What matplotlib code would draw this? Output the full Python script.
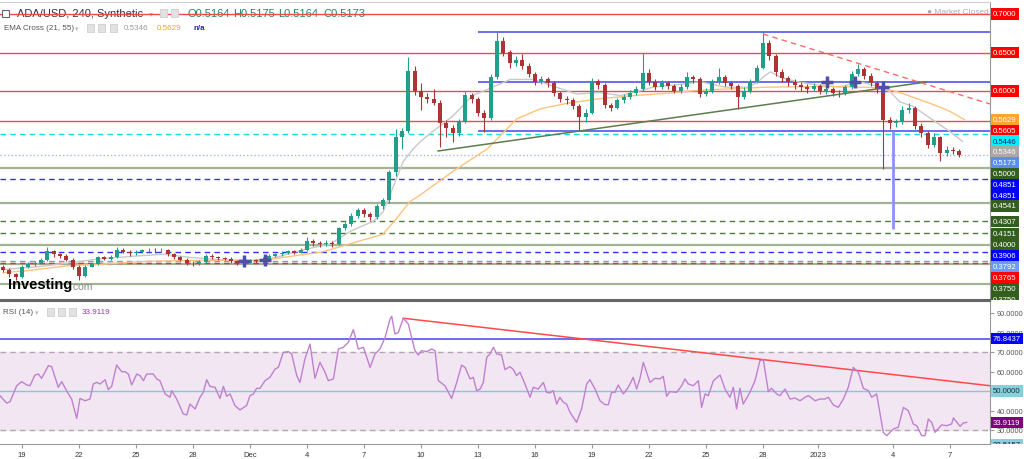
import numpy as np
import matplotlib.pyplot as plt
from matplotlib.transforms import blended_transform_factory, Bbox
from matplotlib.patches import Rectangle

plt.rcParams['font.family'] = ['Liberation Sans', 'DejaVu Sans']

# ---------------- data ----------------
# time axis: days after 19 Nov 2022, candles every 8 hours starting 18 Nov
t_first = -1.0
t_step = 1 / 3

closes = [0.368, 0.362, 0.358, 0.372, 0.375, 0.377, 0.380, 0.392, 0.388, 0.386,
          0.381, 0.372, 0.360, 0.372, 0.375, 0.384, 0.382, 0.384, 0.394, 0.391,
          0.389, 0.391, 0.393, 0.394, 0.393, 0.394, 0.388, 0.384, 0.381, 0.377,
          0.376, 0.378, 0.386, 0.384, 0.383, 0.382, 0.379, 0.376, 0.377, 0.380,
          0.379, 0.382, 0.386, 0.388, 0.390, 0.392, 0.390, 0.393, 0.405, 0.402,
          0.401, 0.403, 0.401, 0.422, 0.427, 0.438, 0.445, 0.440, 0.436, 0.450,
          0.458, 0.495, 0.540, 0.548, 0.626, 0.600, 0.592, 0.590, 0.585, 0.558,
          0.552, 0.545, 0.560, 0.595, 0.590, 0.572, 0.565, 0.618, 0.665, 0.650,
          0.636, 0.640, 0.633, 0.622, 0.612, 0.615, 0.610, 0.597, 0.590, 0.588,
          0.580, 0.566, 0.572, 0.613, 0.608, 0.582, 0.578, 0.588, 0.592, 0.598,
          0.602, 0.624, 0.612, 0.605, 0.610, 0.606, 0.600, 0.605, 0.618, 0.615,
          0.596, 0.600, 0.612, 0.618, 0.610, 0.606, 0.592, 0.600, 0.612, 0.630,
          0.662, 0.645, 0.625, 0.617, 0.612, 0.608, 0.605, 0.603, 0.606, 0.600,
          0.602, 0.598, 0.597, 0.605, 0.622, 0.628, 0.620, 0.610, 0.603, 0.562,
          0.558, 0.560, 0.575, 0.578, 0.555, 0.545, 0.530, 0.540, 0.520, 0.524,
          0.522, 0.5173]
highs = [0.374, 0.370, 0.364, 0.374, 0.378, 0.379, 0.383, 0.397, 0.394, 0.390,
         0.388, 0.383, 0.374, 0.374, 0.377, 0.386, 0.386, 0.387, 0.397, 0.396,
         0.393, 0.394, 0.395, 0.396, 0.396, 0.396, 0.395, 0.390, 0.386, 0.383,
         0.379, 0.380, 0.388, 0.388, 0.386, 0.385, 0.384, 0.381, 0.379, 0.382,
         0.382, 0.384, 0.388, 0.390, 0.392, 0.394, 0.394, 0.396, 0.410, 0.408,
         0.405, 0.406, 0.405, 0.424, 0.430, 0.441, 0.448, 0.448, 0.443, 0.453,
         0.461, 0.498, 0.550, 0.552, 0.644, 0.632, 0.610, 0.597, 0.603, 0.588,
         0.562, 0.556, 0.563, 0.600, 0.598, 0.592, 0.575, 0.622, 0.678, 0.670,
         0.653, 0.645, 0.648, 0.636, 0.625, 0.620, 0.618, 0.613, 0.600, 0.593,
         0.591, 0.583, 0.576, 0.617, 0.616, 0.610, 0.585, 0.591, 0.596, 0.601,
         0.606, 0.650, 0.628, 0.615, 0.614, 0.613, 0.609, 0.609, 0.625, 0.621,
         0.618, 0.604, 0.616, 0.630, 0.621, 0.613, 0.609, 0.605, 0.616, 0.634,
         0.678, 0.666, 0.648, 0.628, 0.620, 0.616, 0.612, 0.609, 0.610, 0.609,
         0.606, 0.605, 0.601, 0.608, 0.626, 0.635, 0.631, 0.623, 0.613, 0.606,
         0.566, 0.564, 0.580, 0.584, 0.580, 0.558, 0.548, 0.545, 0.542, 0.528,
         0.527, 0.525]
lows = [0.365, 0.358, 0.355, 0.357, 0.370, 0.373, 0.375, 0.379, 0.385, 0.383,
        0.379, 0.369, 0.354, 0.358, 0.371, 0.374, 0.380, 0.380, 0.383, 0.389,
        0.386, 0.387, 0.389, 0.391, 0.390, 0.391, 0.386, 0.382, 0.379, 0.374,
        0.373, 0.374, 0.377, 0.382, 0.381, 0.380, 0.377, 0.374, 0.374, 0.376,
        0.377, 0.378, 0.381, 0.384, 0.386, 0.388, 0.388, 0.389, 0.392, 0.399,
        0.398, 0.399, 0.398, 0.400, 0.419, 0.425, 0.435, 0.436, 0.432, 0.434,
        0.447, 0.455, 0.490, 0.525, 0.545, 0.595, 0.575, 0.585, 0.582, 0.527,
        0.540, 0.534, 0.542, 0.558, 0.585, 0.568, 0.547, 0.562, 0.615, 0.645,
        0.630, 0.632, 0.628, 0.618, 0.608, 0.609, 0.605, 0.594, 0.586, 0.583,
        0.577, 0.548, 0.560, 0.570, 0.603, 0.578, 0.574, 0.576, 0.585, 0.589,
        0.595, 0.600, 0.608, 0.601, 0.602, 0.602, 0.597, 0.597, 0.603, 0.611,
        0.592, 0.593, 0.598, 0.609, 0.606, 0.602, 0.577, 0.589, 0.598, 0.610,
        0.628, 0.640, 0.620, 0.612, 0.606, 0.603, 0.600, 0.598, 0.600, 0.596,
        0.596, 0.593, 0.592, 0.595, 0.603, 0.619, 0.616, 0.606, 0.598, 0.499,
        0.550, 0.553, 0.557, 0.571, 0.550, 0.540, 0.526, 0.527, 0.509, 0.516,
        0.518, 0.514]
first_open = 0.372
opens = [first_open] + closes[:-1]

# EMA cross (21, 55)
ema21_t = [-1.0, 0.95, 4.1, 6.2, 7.5, 8.8, 10.4, 12.0, 13.05, 15.0,
           16.2, 17.3, 18.5, 19.0, 19.5, 20.05, 20.6, 20.95, 21.5, 22.7,
           23.7, 24.6, 25.7, 26.9, 28.0, 29.2, 30.4, 31.5, 32.5, 33.2,
           34.8, 35.7, 37.0, 38.2, 38.7, 39.0, 39.4, 39.9, 40.8, 41.8,
           43.05, 44.1, 45.2, 45.7, 46.2, 46.9, 47.9, 48.8, 49.5]
ema21_v = [0.368, 0.372, 0.382, 0.386, 0.388, 0.384, 0.381, 0.380, 0.382, 0.395,
           0.401, 0.418, 0.431, 0.443, 0.473, 0.508, 0.525, 0.534, 0.545, 0.568,
           0.594, 0.603, 0.615, 0.615, 0.606, 0.596, 0.598, 0.594, 0.600, 0.605,
           0.609, 0.612, 0.605, 0.605, 0.611, 0.618, 0.625, 0.618, 0.612, 0.608,
           0.605, 0.612, 0.605, 0.599, 0.586, 0.580, 0.563, 0.548, 0.5346]
ema55_t = [-1.0, 0.4, 2.4, 4.1, 6.7, 9.4, 12.5, 13.2, 15.8, 17.6,
           19.0, 19.7, 20.4, 20.9, 22.7, 24.5, 26.05, 27.3, 28.7, 30.4,
           32.2, 33.9, 35.7, 39.2, 42.7, 45.3, 46.2, 47.9, 48.8, 49.6]
ema55_v = [0.364, 0.367, 0.373, 0.375, 0.379, 0.380, 0.380, 0.382, 0.391, 0.404,
           0.414, 0.434, 0.456, 0.464, 0.496, 0.525, 0.564, 0.577, 0.584, 0.590,
           0.594, 0.597, 0.601, 0.605, 0.606, 0.604, 0.598, 0.583, 0.574, 0.5629]

# RSI (14)
rsi_t = [-1.16, -0.81, -0.63, -0.28, -0.02, 0.25, 0.42, 0.68, 0.86, 1.03,
         1.39, 1.56, 1.91, 2.09, 2.44, 2.61, 2.88, 3.05, 3.32, 3.58,
         3.75, 3.93, 4.11, 4.37, 4.54, 4.72, 4.98, 5.25, 5.42, 5.60,
         5.77, 6.04, 6.21, 6.39, 6.56, 6.91, 7.09, 7.26, 7.53, 7.79,
         7.88, 8.14, 8.49, 8.67, 8.84, 9.11, 9.37, 9.54, 9.72, 9.89,
         10.16, 10.42, 10.60, 10.77, 10.95, 11.21, 11.47, 11.82, 12.00, 12.18,
         12.35, 12.53, 12.79, 13.05, 13.32, 13.49, 13.75, 14.02, 14.19, 14.46,
         14.63, 14.89, 15.16, 15.42, 15.68, 15.95, 16.12, 16.39, 16.65, 16.91,
         17.18, 17.44, 17.70, 17.97, 18.32, 18.58, 18.84, 19.11, 19.37, 19.46,
         19.63, 19.81, 20.07, 20.33, 20.68, 20.86, 21.03, 21.30, 21.56, 21.74,
         21.91, 22.26, 22.61, 22.88, 23.14, 23.32, 23.58, 23.75, 23.93, 24.11,
         24.28, 24.46,
         24.63, 24.81, 24.98, 25.24, 25.42, 25.68, 25.86, 26.03, 26.21, 26.47,
         26.74, 26.91, 27.17, 27.44, 27.61, 27.79, 27.96, 28.14, 28.31, 28.49,
         28.66, 28.84, 29.19, 29.45, 29.72, 29.89, 30.16, 30.42, 30.68, 30.86,
         31.03, 31.21, 31.38, 31.65, 31.91, 32.17, 32.35, 32.52, 32.70, 33.05,
         33.31, 33.58, 33.75, 33.93, 34.10, 34.45, 34.72, 34.89, 35.07, 35.33,
         35.60, 35.77, 35.95, 36.12, 36.39, 36.74, 37.00, 37.26, 37.44, 37.61,
         37.79, 37.96, 38.31, 38.58, 38.84, 39.02, 39.28, 39.45, 39.72, 39.89,
         40.16, 40.42, 40.68, 40.95, 41.21, 41.39, 41.56, 41.74, 42.00, 42.26,
         42.44, 42.70, 42.96, 43.23, 43.49, 43.75, 44.02, 44.28, 44.54, 44.72,
         44.98, 45.33, 45.51, 45.86, 46.12, 46.39, 46.65, 46.91, 47.09, 47.35,
         47.53, 47.70, 47.88, 48.05, 48.40, 48.67, 48.93, 49.02, 49.37, 49.54,
         49.72]
rsi_v = [47.6, 43.8, 44.5, 52.7, 54.8, 53.1, 52.7, 58.2, 58.7, 56.5,
         63.0, 62.5, 51.9, 54.8, 48.5, 45.9, 36.0, 46.2, 45.0, 45.9,
         53.6, 54.4, 53.6, 55.8, 50.7, 52.4, 63.3, 59.9, 59.9, 58.7,
         53.1, 58.7, 57.9, 55.3, 58.7, 58.7, 56.2, 55.3, 48.5, 46.8,
         50.2, 45.9, 38.2, 37.7, 43.3, 40.8, 46.8, 49.3, 55.8, 52.4,
         51.9, 46.2, 52.4, 47.3, 48.5, 42.5, 40.3, 42.5, 47.6, 48.5,
         51.4, 51.4, 55.3, 57.0, 61.3, 62.1, 69.8, 70.2, 69.0, 57.9,
         54.4, 66.4, 74.1, 56.5, 64.7, 59.6, 55.3, 56.2, 71.5, 72.4,
         75.0, 81.5, 71.5, 72.4, 62.1, 69.0, 71.5, 77.5, 86.9, 88.3,
         79.2, 80.1, 87.3, 84.4, 70.7, 68.5, 70.7, 70.2, 71.5, 70.7,
         55.3, 52.7, 46.2, 54.4, 63.3, 62.1, 56.2, 57.0, 50.2, 51.0,
         54.4, 67.3,
         69.0, 72.4, 69.0, 68.5, 61.0, 62.5, 61.0, 57.9, 59.6, 53.6,
         46.8, 51.9, 51.0, 54.4, 49.3, 49.0, 50.2, 43.3, 46.8, 44.2,
         43.3, 39.1, 33.9, 40.8, 53.6, 55.8, 51.0, 45.0, 43.0, 43.0,
         49.3, 49.3, 53.1, 48.5, 51.9, 57.0, 51.0, 56.2, 64.7, 54.4,
         56.5, 56.2, 57.5, 47.3, 49.7, 49.3, 52.7, 56.2, 53.6, 52.7,
         55.3, 41.6, 48.5, 47.6, 55.3, 58.2, 51.0, 46.8, 51.9, 40.8,
         51.4, 43.3, 49.3, 55.3, 65.6, 65.9, 49.7, 51.4, 48.5, 47.6,
         51.0, 45.9, 46.4, 45.0, 46.8, 47.6, 46.4, 45.0, 45.9, 45.9,
         46.8, 42.8, 41.6, 45.9, 51.9, 62.1, 59.6, 51.4, 50.2, 46.8,
         48.5, 28.8, 27.1, 30.5, 31.4, 41.6, 39.9, 33.1, 32.2, 27.1,
         27.1, 35.6, 33.9, 28.8, 32.6, 32.2, 33.1, 36.2, 31.9, 33.6,
         33.9]

# drawn levels on the price pane
red_levels = [0.7000, 0.6500, 0.6000, 0.5605]
blue_levels = [0.6766, 0.6117, 0.5480]      # start 13 Dec
blue_levels_from = 24.0
blue_dashed = [0.4851, 0.3906]
green_levels = [0.5000, 0.4541, 0.4000, 0.3750, 0.3500]
green_dashed = [0.4307, 0.4151]
cyan_dashed = [0.5446]
lblue_dashed = [0.3792]
red_dashed = [0.3765]
last_price = 0.5173

support_t, support_p = [21.9, 47.6], [0.5221, 0.6117]
resist_t, resist_p = [39.0, 50.95], [0.6740, 0.5831]
drop_t, drop_p = 45.84, [0.5480, 0.4208]
cross_t = [11.68, 12.79, 42.37, 43.84, 45.32]
cross_p = [0.3792, 0.3805, 0.6117, 0.6117, 0.6052]

rsi_hline = 76.8437
rsi_trend_t, rsi_trend_v = [20.07, 50.95], [87.3, 52.7]

# right-hand value tags
tag_vals = [0.7000, 0.6500, 0.6000, 0.5629, 0.5605, 0.5446, 0.5346, 0.5173,
            0.5000, 0.4851, 0.4851, 0.4541, 0.4307, 0.4151, 0.4000, 0.3906,
            0.3792, 0.3765, 0.3750, 0.3750]
tag_kind = ['red', 'red', 'red', 'ema55', 'red', 'cyan', 'ema21', 'last',
            'green', 'blue', 'blue', 'green', 'green', 'green', 'green', 'blue',
            'lblue', 'red', 'green', 'green']
rsi_tag_vals = [76.8437, 50.0, 33.9119, 22.5157]
rsi_tag_kind = ['blue', 'teal', 'purple', 'teal']
rsi_ticks = [30, 40, 50, 60, 70, 80, 90]

date_t = [0, 3, 6, 9, 12, 15, 18, 21, 24, 27, 30, 33, 36, 39, 41.9, 45.84, 48.84]
date_lbl = ['19', '22', '25', '28', 'Dec', '4', '7', '10', '13', '16', '19',
            '22', '25', '28', '2023', '4', '7']

# ---------------- styles ----------------
UP, DN = '#229e8a', '#ad3434'
tag_style = {'red': ('#ff0000', 'white'), 'ema55': ('#ffa42e', 'white'),
             'cyan': ('#00f0ff', '#102060'), 'ema21': ('#a9a9a9', 'white'),
             'last': ('#5b8def', 'white'), 'green': ('#335e1d', 'white'),
             'blue': ('#0000ff', 'white'), 'lblue': ('#6b9cf5', 'white'),
             'teal': ('#86cfdc', '#203040'), 'purple': ('#800080', 'white')}

W, H = 1024, 460
fig = plt.figure(figsize=(W / 100, H / 100), dpi=100)


def fx(x):
    return x / W


def fy(y):
    return 1 - y / H


ax = fig.add_axes([0, fy(301), fx(990), (301 - 3) / H])
ax2 = fig.add_axes([0, fy(445), fx(990), (445 - 302) / H], sharex=ax)
ax.set_xlim(-22 / 19, 968 / 19)
ax.set_ylim(0.7 - 286 / 770, 0.7 + 12 / 770)
ax2.set_ylim(30 - 14 / 1.95, 30 + 129 / 1.95)

# ---- price pane ----
for v in red_levels:
    ax.axhline(v, color='#ee4a4a', lw=1, zorder=2)
for v in blue_levels:
    ax.hlines(v, blue_levels_from, 60, color='#6b6bf0', lw=1.4, zorder=2)
for v in blue_dashed:
    ax.axhline(v, color='#2f2fff', lw=1, ls=(0, (4, 3)), zorder=2)
for v in green_levels:
    ax.axhline(v, color='#a2b593', lw=1.6, zorder=2)
for v in green_dashed:
    ax.axhline(v, color='#4e7a3a', lw=1, ls=(0, (4, 3)), zorder=2)
for v in cyan_dashed:
    ax.axhline(v, color='#19dbe8', lw=1, ls=(0, (4, 3)), zorder=2)
for v in lblue_dashed:
    ax.axhline(v, color='#6b9cf5', lw=1, ls=(0, (4, 3)), zorder=2)
for v in red_dashed:
    ax.axhline(v, color='#ff2a2a', lw=1, ls=(0, (4, 3)), zorder=2)
ax.axhline(last_price, color='#9fb4ff', lw=1, ls=':', zorder=2)

ax.plot(ema21_t, ema21_v, color='#c9c9c9', lw=1, zorder=3)
ax.plot(ema55_t, ema55_v, color='#ffc37e', lw=1, zorder=3)

tc = t_first + t_step * np.arange(len(closes))
o = np.array(opens)
c = np.array(closes)
col = np.where(c >= o, UP, DN)
ax.vlines(tc, lows, highs, colors=col, lw=0.8, zorder=4)
ax.bar(tc, np.maximum(np.abs(c - o), 0.0008), bottom=np.minimum(o, c),
       width=0.2, color=col, zorder=5)

ax.plot(support_t, support_p, color='#5c7d4e', lw=1.1, zorder=6)
ax.plot(resist_t, resist_p, color='#ff6a6a', lw=1, ls=(0, (4, 3)), zorder=6)
ax.vlines(drop_t, drop_p[1], drop_p[0], color='#8f8fff', lw=2, zorder=6)
ax.plot(cross_t, cross_p, ls='none', marker='+', ms=8, mew=2.5,
        color='#4f4fa8', zorder=7)

ax.tick_params(axis='x', bottom=False, labelbottom=False)
ax.set_yticks([])
ax.spines['left'].set_visible(False)
ax.spines['top'].set_color('#d0d0d0')
ax.spines['right'].set_color('#999999')
ax.spines['bottom'].set_color('#666666')
ax.spines['bottom'].set_linewidth(1.5)

# ---- RSI pane ----
ax2.axhspan(30, 70, color='#f2e6f2', zorder=0)
ax2.axhline(70, color='#b0a8b0', lw=1, ls=(0, (4, 3)))
ax2.axhline(30, color='#b0a8b0', lw=1, ls=(0, (4, 3)))
ax2.axhline(50, color='#86c8d8', lw=1)
ax2.axhline(rsi_hline, color='#6b6bf0', lw=1.4)
ax2.plot(rsi_trend_t, rsi_trend_v, color='#ff4a4a', lw=1.1)
ax2.plot(rsi_t, rsi_v, color='#c080d0', lw=1)

ax2.yaxis.tick_right()
ax2.set_yticks(rsi_ticks)
# the 50 level carries its own tag, so its tick text stays hidden
ax2.set_yticklabels(['' if v == 50 else f'{v:.4f}' for v in rsi_ticks])
ax2.tick_params(axis='y', length=3, color='#999999', labelsize=5.3,
                labelcolor='#555555', pad=2)
ax2.set_xticks(date_t)
ax2.set_xticklabels(date_lbl)
ax2.tick_params(axis='x', length=3, color='#999999', labelsize=5.5,
                labelcolor='#333333', pad=2)
ax2.spines['left'].set_visible(False)
ax2.spines['top'].set_color('#666666')
ax2.spines['top'].set_linewidth(1.5)
ax2.spines['right'].set_color('#999999')
ax2.spines['bottom'].set_color('#999999')


# ---- value tags on the right edge ----
def put_tags(a, vals, kinds, fmt, gap=10.8):
    tr = blended_transform_factory(a.transAxes, a.transData)
    clip = Bbox.from_extents(a.bbox.x0, a.bbox.y0, fig.bbox.x1, a.bbox.y1)
    prev = None
    for v, k in zip(vals, kinds):
        y = a.transData.transform((0, v))[1]
        if prev is not None and prev - y < gap:
            y = prev - gap
        prev = y
        yd = a.transData.inverted().transform((0, y))[1]
        bg, fg = tag_style[k]
        txt = a.text(1.003, yd, fmt % v, transform=tr, ha='left', va='center',
                     fontsize=5.6, color=fg, zorder=10,
                     bbox=dict(boxstyle='square,pad=0.28', fc=bg, ec='none'))
        txt.set_clip_box(clip)
        txt.set_clip_on(True)


put_tags(ax, tag_vals, tag_kind, '%.4f')
put_tags(ax2, rsi_tag_vals, rsi_tag_kind, '%.4f')


# ---- header texts ----
def ftext(x, y, s, a=ax, **kw):
    kw.setdefault('va', 'center')
    kw.setdefault('zorder', 1)
    return a.text(fx(x), fy(y), s, transform=fig.transFigure, **kw)


def icon(x, y, w=7, h=8):
    fig.add_artist(Rectangle((fx(x), fy(y + h / 2)), w / W, h / H,
                             transform=fig.transFigure, fc='#e2e2e2',
                             ec='#cfcfcf', lw=0.6))


fig.add_artist(Rectangle((fx(2), fy(18)), 7 / W, 7 / H, transform=fig.transFigure,
                         fc='white', ec='#666666', lw=0.8))
ftext(17, 14, 'ADA/USD, 240, Synthetic', fontsize=8, color='#333333')
ftext(149, 14, '\u25be', fontsize=6, color='#bbbbbb', family='DejaVu Sans')
icon(160, 14)
icon(171, 14)
ftext(188, 14, 'O0.5164', fontsize=8, color='#1f8a5a')
ftext(233, 14, 'H0.5175', fontsize=8, color='#1f8a5a')
ftext(278, 14, 'L0.5164', fontsize=8, color='#1f8a5a')
ftext(323, 14, 'C0.5173', fontsize=8, color='#1f8a5a')

ftext(4, 29, 'EMA Cross (21, 55)', fontsize=5.8, color='#555555')
ftext(75, 29, '\u25be', fontsize=5, color='#bbbbbb', family='DejaVu Sans')
icon(87, 29)
icon(98, 29)
icon(110, 29)
ftext(124, 29, '0.5346', fontsize=5.8, color='#999999')
ftext(157, 29, '0.5629', fontsize=5.8, color='#f5a020')
ftext(193, 29, 'n/a', fontsize=5.8, color='#2a2a9a', weight='bold')

ftext(927, 12, '\u25cf Market Closed', fontsize=6, color='#aaaaaa', zorder=8)

ftext(8, 285, 'Investing', fontsize=10.5, color='black', weight='bold', zorder=8)
ftext(70, 287, '.com', fontsize=7.5, color='#888888', zorder=8)

ftext(3, 313, 'RSI (14)', a=ax2, fontsize=5.8, color='#555555', zorder=8)
ftext(35, 313, '\u25be', a=ax2, fontsize=5, color='#bbbbbb', family='DejaVu Sans')
icon(47, 313)
icon(58, 313)
icon(69, 313)
ftext(82, 313, '33.9119', a=ax2, fontsize=5.8, color='#9a3aa8', zorder=8)

fig.savefig('out.png', dpi=100)
